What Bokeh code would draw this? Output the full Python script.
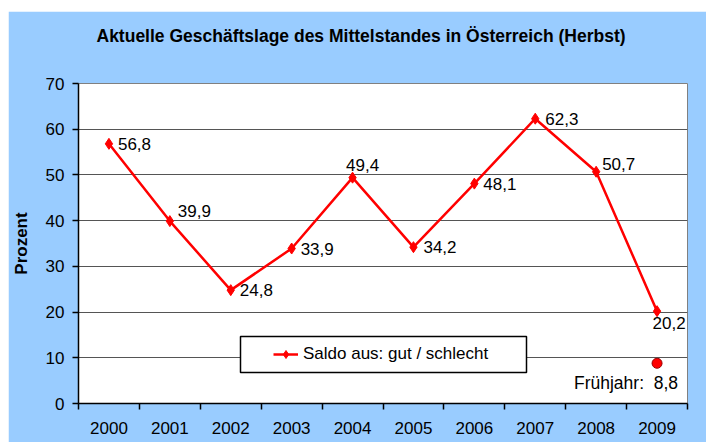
from bokeh.plotting import figure
from bokeh.models import (ColumnDataSource, FixedTicker, Legend, LegendItem,
                          BoxAnnotation, Range1d, Title)
from bokeh.core.properties import value
from bokeh.embed import file_html
from bokeh.resources import INLINE

# ---- data ----
years = ["2000", "2001", "2002", "2003", "2004", "2005", "2006", "2007", "2008", "2009"]
saldo = [56.8, 39.9, 24.8, 33.9, 49.4, 34.2, 48.1, 62.3, 50.7, 20.2]
spring_year = "2009"
spring_value = 8.8
y_ticks = [0, 10, 20, 30, 40, 50, 60, 70]
title_text = "Aktuelle Geschäftslage des Mittelstandes in Österreich (Herbst)"
series_name = "Saldo aus: gut / schlecht"
spring_prefix = "Frühjahr:"

# ---- label placement (style only) ----
lab_dx = [9, 8, 9, 9, 10, 10, 9, 10, 6, 12]
lab_dy = [0, -10, 0, 0, -13, 0, 0, 0, -8, 12]
lab_align = ["left", "left", "left", "left", "center", "left", "left", "left", "left", "center"]

FONT = "Liberation Sans"
BG = "#99CCFF"

xs = [i + 0.5 for i in range(len(years))]
fmt = lambda v: f"{v:.1f}".replace(".", ",")
src = ColumnDataSource(dict(x=xs, y=saldo, lab=[fmt(v) for v in saldo],
                            dx=lab_dx, dy=lab_dy, al=lab_align))

p = figure(width=698, height=431, output_backend="svg", toolbar_location=None,
           x_range=Range1d(0, len(years)), y_range=Range1d(y_ticks[0], y_ticks[-1]),
           min_border_left=69, min_border_right=19, min_border_top=72, min_border_bottom=39,
           background_fill_color="white", border_fill_color=BG,
           outline_line_color="#808080", outline_line_width=1)
p.margin = (11, 0, 0, 8)

# title + spacer
p.title.text = title_text
p.title.align = "left"
p.title.offset = 18
p.title.text_font = FONT
p.title.text_font_style = "bold"
p.title.text_font_size = "17.5px"
p.title.text_color = "black"
spacer = Title(text=" ", text_font_size="19px")
p.add_layout(spacer, "above")

# axes
p.xaxis.ticker = FixedTicker(ticks=xs, minor_ticks=list(range(len(years) + 1)))
p.xaxis.major_label_overrides = {x: y for x, y in zip(xs, years)}
p.xaxis.major_tick_out = 0
p.xaxis.major_tick_in = 0
p.xaxis.minor_tick_out = 6
p.xaxis.minor_tick_in = 0
p.xaxis.minor_tick_line_color = "black"
p.xaxis.minor_tick_line_width = 1.5
p.xaxis.major_label_standoff = 12
p.yaxis.ticker = FixedTicker(ticks=y_ticks, minor_ticks=[])
p.yaxis.major_tick_out = 6
p.yaxis.major_tick_in = 0
p.yaxis.major_label_standoff = 8
p.yaxis.axis_label = "Prozent"
p.yaxis.axis_label_standoff = 12
p.yaxis.axis_label_text_font = FONT
p.yaxis.axis_label_text_font_style = "bold"
p.yaxis.axis_label_text_font_size = "17px"
p.yaxis.axis_label_text_color = "black"
for ax in (p.xaxis, p.yaxis):
    ax.axis_line_color = "black"
    ax.axis_line_width = 1.5
    ax.major_tick_line_color = "black"
    ax.major_tick_line_width = 1.5
    ax.major_label_text_font = FONT
    ax.major_label_text_font_size = "17px"
    ax.major_label_text_color = "black"

p.xgrid.grid_line_color = None
p.ygrid.grid_line_color = "#555555"
p.ygrid.grid_line_width = 1

# series
line_r = p.line("x", "y", source=src, line_color="#FF0000", line_width=2.5)
mark_r = p.scatter("x", "y", source=src, marker="diamond", size=11,
                   fill_color="#FF0000", line_color="#FF0000")
txt = p.text("x", "y", text="lab", source=src, x_offset="dx", y_offset="dy",
             text_align="al", text_baseline="middle", text_font_size="17px",
             text_color="black")
txt.glyph.text_font = value(FONT)

# spring point
sx = years.index(spring_year) + 0.5
ssrc = ColumnDataSource(dict(x=[sx], y=[spring_value],
                             lab=[f"{spring_prefix}\u00a0\u00a0{fmt(spring_value)}"]))
p.scatter("x", "y", source=ssrc, marker="circle", size=10,
          fill_color="#FF0000", line_color="#990000", line_width=1)
st = p.text("x", "y", text="lab", source=ssrc, x_offset=21, y_offset=20,
            text_align="right", text_baseline="middle", text_font_size="17.5px",
            text_color="black")
st.glyph.text_font = value(FONT)

# legend box + legend
box = BoxAnnotation(left=162, right=448, bottom=31, top=67,
                    left_units="screen", right_units="screen",
                    bottom_units="screen", top_units="screen",
                    fill_color="white", fill_alpha=1.0,
                    line_color="black", line_alpha=1.0, line_width=1.5)
p.add_layout(box)
legend = Legend(items=[LegendItem(label=series_name, renderers=[line_r, mark_r])],
                location=(195, 39), padding=0, margin=0, spacing=0,
                glyph_width=25, glyph_height=20, label_height=20, label_standoff=5,
                background_fill_alpha=0, border_line_color=None,
                label_text_font=FONT, label_text_font_size="17px", label_text_color="black")
p.add_layout(legend, "center")

open("out.html", "w").write(file_html(p, INLINE))
